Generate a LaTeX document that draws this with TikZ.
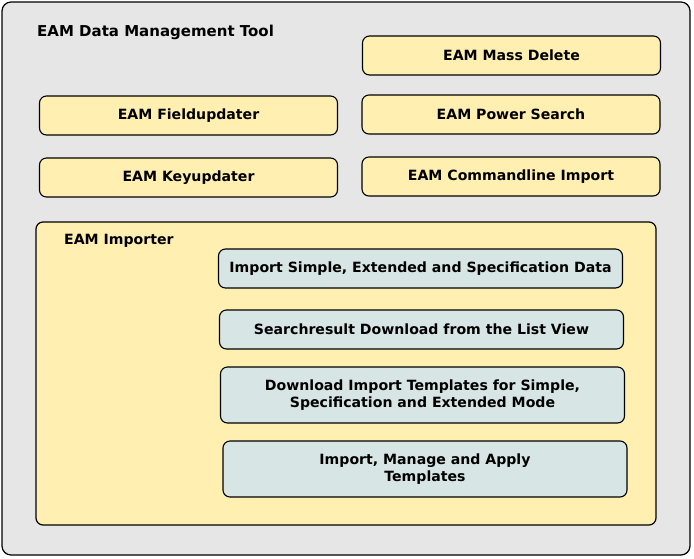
\documentclass[tikz,border=0pt]{standalone}
\usepackage{fontspec}
\setmainfont{DejaVu Sans}
\usepackage{tikz}

\definecolor{ToolGrey}{HTML}{E6E6E6}
\definecolor{ModYellow}{HTML}{FFEFB0}
\definecolor{FuncBlue}{HTML}{D8E5E5}

\begin{document}
\begin{tikzpicture}[x=1pt,y=-1pt]
	  \useasboundingbox (0,0) rectangle (694,558);
	  \tikzset{FrameStyle/.style = {draw,
	  								  line width     = 1.2pt,
	                                 rounded corners = 9pt,
	                                 inner sep      = 0pt,
	                                 outer sep      = 0pt}}

	  \tikzset{ModuleStyle/.style = {draw,
	  								  fill           = ModYellow,
	  								  line width     = 1.1pt,
	                                 rounded corners = 7pt,
	                                 minimum width  = 298pt,
	                                 minimum height = 39pt,
	                                 inner sep      = 0pt,
	                                 font           = \fontsize{14.1}{17}\bfseries}}

	  \tikzset{FunctionStyle/.style = {ModuleStyle,
	  								  fill           = FuncBlue,
	                                 minimum width  = 404pt,
	                                 align          = center}}

	  \tikzset{TitleStyle/.style = {anchor = west,
	  								  inner sep      = 0pt,
	                                 font           = \fontsize{15}{17}\bfseries}}

	     % containers
	     \node[FrameStyle, fill=ToolGrey, minimum width=688pt, minimum height=553pt] (Tool) at (346,278.5) {};
	     \node[TitleStyle] (ToolTitle) at (37,32) {EAM Data Management Tool};

	     % modules
	     \node[ModuleStyle] (MassDelete) at (511.5,55.5) {EAM Mass Delete};
	     \node[ModuleStyle] (Fieldupdater) at (188.5,115.5) {EAM Fieldupdater};
	     \node[ModuleStyle] (PowerSearch) at (511,114.5) {EAM Power Search};
	     \node[ModuleStyle] (Keyupdater) at (188.5,177.5) {EAM Keyupdater};
	     \node[ModuleStyle] (Commandline) at (511,176.5) {EAM Commandline Import};

	     \node[FrameStyle, fill=ModYellow, rounded corners=7pt, minimum width=620pt, minimum height=303pt] (Importer) at (346,373.5) {};
	     \node[TitleStyle, font=\fontsize{14.1}{17}\bfseries] (ImporterTitle) at (64,241) {EAM Importer};

	     % importer functions
	     \node[FunctionStyle] (ImportData) at (420.5,268.5) {Import Simple, Extended and Specification Data};
	     \node[FunctionStyle] (Searchresult) at (421.5,329.5) {Searchresult Download from the List View};
	     \node[FunctionStyle, minimum height=56pt] (DownloadTpl) at (422.5,395) {Download Import Templates for Simple,\\Specification and Extended Mode};
	     \node[FunctionStyle, minimum height=56pt] (ManageTpl) at (425,469) {Import, Manage and Apply\\Templates};

	  \end{tikzpicture}
\end{document}
